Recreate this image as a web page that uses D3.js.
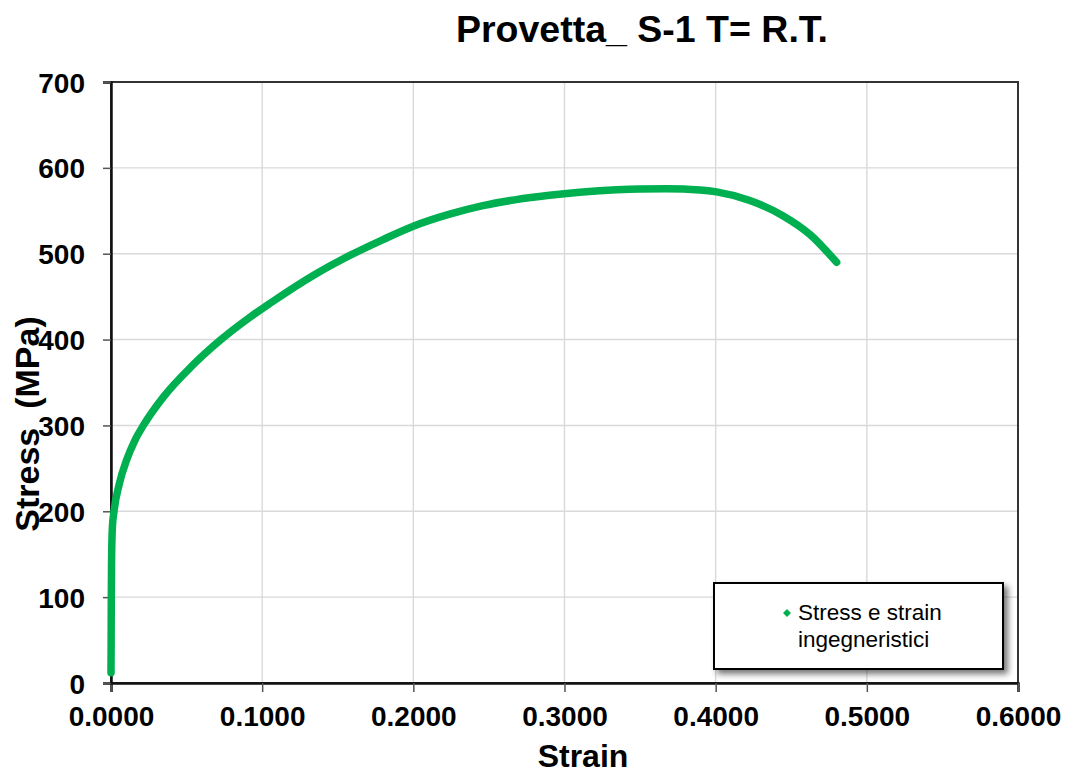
<!DOCTYPE html>
<html>
<head>
<meta charset="utf-8">
<script src="https://cdn.jsdelivr.net/npm/d3@7"></script>
<style>
  html, body { margin: 0; padding: 0; background: #fff; }
  svg { display: block; font-family: "Liberation Sans", Arial, sans-serif; }
</style>
</head>
<body>
<svg id="chart" width="1070" height="776"></svg>
<script>
// ---- data ----
const strain = [0.0000, 0.0001, 0.0002, 0.0004, 0.0009, 0.0020, 0.0055, 0.0104, 0.0159, 0.0214,
                0.0346, 0.0534, 0.0721, 0.0919, 0.1050, 0.1360, 0.1580, 0.1800, 0.2000, 0.2240,
                0.2460, 0.2680, 0.2900, 0.3100, 0.3345, 0.3500, 0.3675, 0.3895, 0.4006, 0.4226,
                0.4447, 0.4623, 0.4800];
const stress = [12, 50, 100, 145, 181, 200, 232, 260, 283, 300,
                333, 369, 399, 426, 442, 477, 498, 516.5, 532, 546,
                556, 563, 568, 571.5, 574.5, 575.5, 575.8, 574.3, 572, 562,
                544, 522.5, 490];
const xTicks = [0, 0.1, 0.2, 0.3, 0.4, 0.5, 0.6];
const yTicks = [0, 100, 200, 300, 400, 500, 600, 700];
const titleText = "Provetta_ S-1 T= R.T.";
const xLabel = "Strain";
const yLabel = "Stress  (MPa)";
const legendLines = ["Stress e strain", "ingegneristici"];

// ---- layout ----
const svg = d3.select("#chart");
const L = 111, R = 1018, T = 82, B = 683;
const x = d3.scaleLinear().domain([0, 0.6]).range([L, R]);
const y = d3.scaleLinear().domain([0, 700]).range([B, T]);
const green = "#00b050";

// defs: legend shadow
const defs = svg.append("defs");
const f = defs.append("filter").attr("id", "shadow").attr("x", "-10%").attr("y", "-20%").attr("width", "130%").attr("height", "160%");
f.append("feGaussianBlur").attr("in", "SourceAlpha").attr("stdDeviation", 3).attr("result", "b");
f.append("feOffset").attr("in", "b").attr("dx", 4).attr("dy", 4).attr("result", "o");
f.append("feComponentTransfer").attr("in", "o").attr("result", "o2")
  .append("feFuncA").attr("type", "linear").attr("slope", 0.55);
const fm = f.append("feMerge");
fm.append("feMergeNode").attr("in", "o2");
fm.append("feMergeNode").attr("in", "SourceGraphic");

// gridlines
svg.append("g").selectAll("line.vg").data(xTicks.slice(1, -1)).join("line")
  .attr("x1", d => x(d)).attr("x2", d => x(d)).attr("y1", T).attr("y2", B)
  .attr("stroke", "#d9d9d9").attr("stroke-width", 1.4);
svg.append("g").selectAll("line.hg").data(yTicks.slice(1, -1)).join("line")
  .attr("x1", L).attr("x2", R).attr("y1", d => y(d)).attr("y2", d => y(d))
  .attr("stroke", "#d9d9d9").attr("stroke-width", 1.4);

// plot border
svg.append("rect").attr("x", L).attr("y", T).attr("width", R - L).attr("height", B - T)
  .attr("fill", "none").attr("stroke", "#333").attr("stroke-width", 2);

// axes
const xAxis = svg.append("g").attr("transform", `translate(0,${B})`)
  .call(d3.axisBottom(x).tickValues(xTicks).tickFormat(d3.format(".4f")).tickSizeOuter(0).tickSize(9).tickPadding(14));
const yAxis = svg.append("g").attr("transform", `translate(${L},0)`)
  .call(d3.axisLeft(y).tickValues(yTicks).tickFormat(d3.format("d")).tickSizeOuter(0).tickSize(8).tickPadding(18));
[xAxis, yAxis].forEach(a => {
  a.select(".domain").attr("stroke", "#111").attr("stroke-width", 2.5);
  a.selectAll(".tick line").attr("stroke", "#555").attr("stroke-width", 1.5);
  a.selectAll(".tick text").attr("fill", "#000").attr("font-size", 28).attr("font-weight", "bold")
    .attr("font-family", "'Liberation Sans', Arial, sans-serif");
});
yAxis.selectAll(".tick text").attr("dy", "0.36em");

// data curve
const pts = strain.map((s, i) => [s, stress[i]]);
svg.append("path").datum(pts)
  .attr("d", d3.line().x(d => x(d[0])).y(d => y(d[1])).curve(d3.curveMonotoneX))
  .attr("fill", "none").attr("stroke", green).attr("stroke-width", 7.5)
  .attr("stroke-linecap", "round").attr("stroke-linejoin", "round");

// title
svg.append("text").attr("x", 642).attr("y", 42).attr("text-anchor", "middle")
  .attr("font-size", 37.5).attr("font-weight", "bold").text(titleText);

// axis labels
svg.append("text").attr("x", 583).attr("y", 767).attr("text-anchor", "middle")
  .attr("font-size", 32).attr("font-weight", "bold").text(xLabel);
svg.append("text").attr("transform", "translate(39,424) rotate(-90)").attr("text-anchor", "middle")
  .attr("font-size", 34).attr("font-weight", "bold").attr("xml:space", "preserve")
  .style("white-space", "pre").text(yLabel);

// legend
const lg = svg.append("g");
lg.append("rect").attr("x", 714).attr("y", 583).attr("width", 289).attr("height", 86)
  .attr("fill", "#fff").attr("stroke", "#000").attr("stroke-width", 2).attr("filter", "url(#shadow)");
lg.append("path").attr("d", d3.symbol(d3.symbolDiamond2, 40)())
  .attr("transform", "translate(787,613)").attr("fill", green);
lg.selectAll("text.l").data(legendLines).join("text")
  .attr("x", 798).attr("y", (d, i) => 620 + i * 27)
  .attr("font-size", 22.5).attr("fill", "#000").text(d => d);
</script>
</body>
</html>
